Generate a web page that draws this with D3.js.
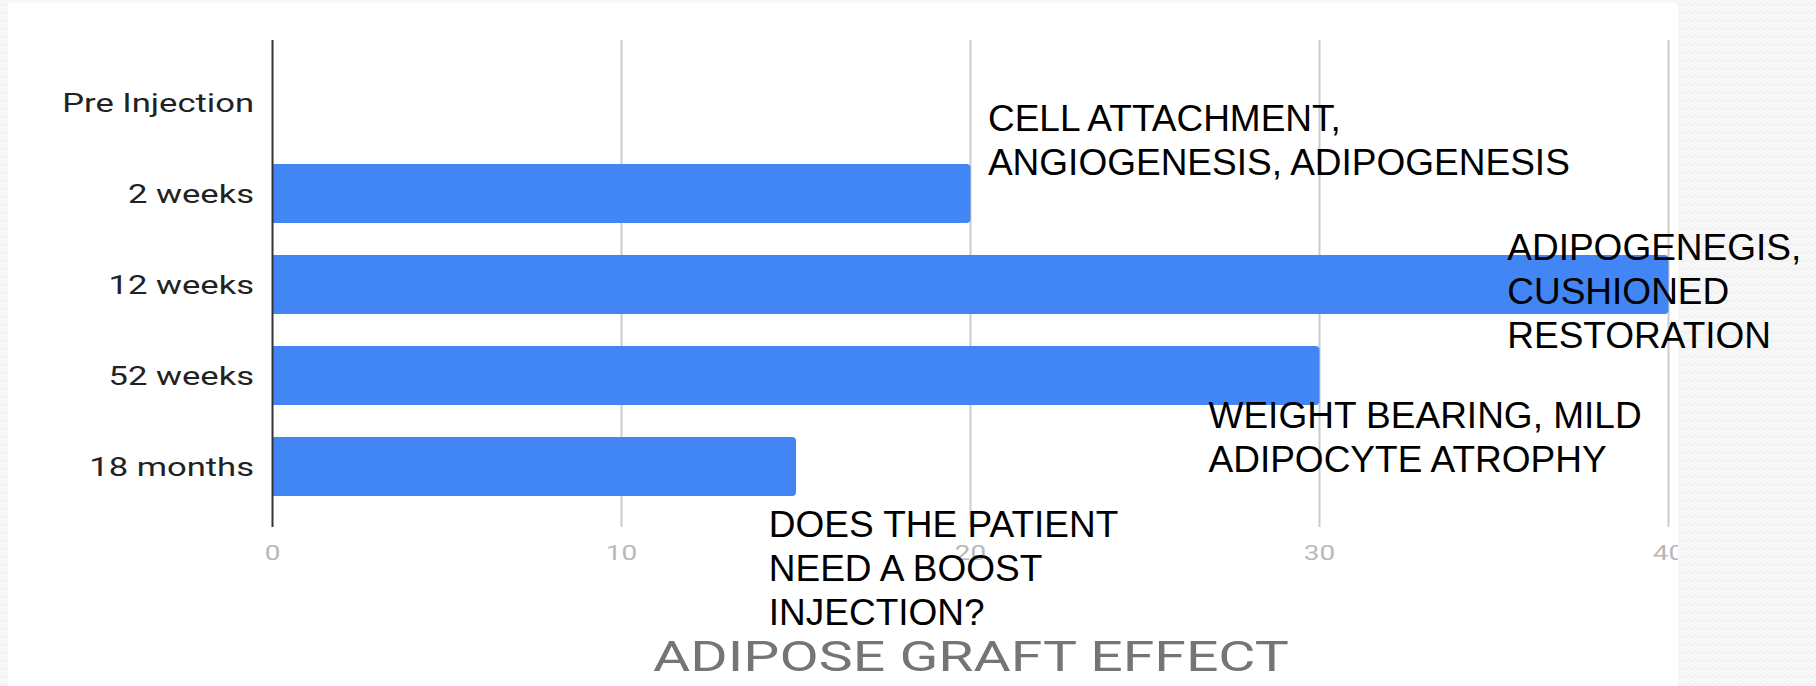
<!DOCTYPE html>
<html>
<head>
<meta charset="utf-8">
<script src="https://cdn.jsdelivr.net/npm/d3@7/dist/d3.min.js"></script>
<style>
  html, body { margin: 0; padding: 0; background: #f6f6f6; }
  svg { display: block; }
</style>
</head>
<body>
<svg id="chart" width="1816" height="686"></svg>
<script>
// ---- data ----
const categories = ["Pre Injection", "2 weeks", "12 weeks", "52 weeks", "18 months"];
const values = [0, 20, 40, 30, 15];
const tickValues = [0, 10, 20, 30, 40];
const tickLabels = ["0", "10", "20", "30", "40"];
const chartTitle = "ADIPOSE GRAFT EFFECT";
const annotationTexts = [
  ["CELL ATTACHMENT,", "ANGIOGENESIS, ADIPOGENESIS"],
  ["ADIPOGENEGIS,", "CUSHIONED", "RESTORATION"],
  ["WEIGHT BEARING, MILD", "ADIPOCYTE ATROPHY"],
  ["DOES THE PATIENT", "NEED A BOOST", "INJECTION?"]
];
// annotation anchor: value on x axis, and category row they sit near
const annotationAnchors = [
  { xv: 20.5, row: "Pre Injection" },
  { xv: 35.38, row: "12 weeks" },
  { xv: 26.82, row: "52 weeks" },
  { xv: 14.22, row: "18 months" }
];

// ---- layout ----
const svg = d3.select("#chart");
const W = 1816, H = 686;
const panel = { x: 8, y: 3, w: 1670, h: 683 };
const plotTop = 40, plotBottom = 527;
const stretch = 1.33; // chart text is horizontally stretched in the original

// textured background
const defs = svg.append("defs");
const pat = defs.append("pattern").attr("id", "zig").attr("patternUnits", "userSpaceOnUse")
  .attr("width", 12).attr("height", 8);
pat.append("rect").attr("width", 12).attr("height", 8).attr("fill", "#f7f7f7");
pat.append("polyline").attr("points", "0,6 3,3 6,6 9,3 12,6")
  .attr("fill", "none").attr("stroke", "#ebebeb").attr("stroke-width", 1);
svg.append("rect").attr("width", W).attr("height", H).attr("fill", "url(#zig)");
svg.append("rect").attr("x", panel.x).attr("y", panel.y).attr("width", panel.w).attr("height", panel.h).attr("fill", "#fff");

const clip = defs.append("clipPath").attr("id", "panelClip");
clip.append("rect").attr("x", panel.x).attr("y", panel.y).attr("width", panel.w).attr("height", panel.h);

const g = svg.append("g").attr("clip-path", "url(#panelClip)");

const x = d3.scaleLinear().domain([0, 40]).range([272.5, 1668.5]);
const y = d3.scaleBand().domain(categories).range([57, 512]).paddingInner(0.35).paddingOuter(0.175);

// gridlines
g.append("g").selectAll("line").data(tickValues.filter(d => d !== 0)).join("line")
  .attr("x1", d => x(d)).attr("x2", d => x(d))
  .attr("y1", plotTop).attr("y2", plotBottom)
  .attr("stroke", "#cccccc").attr("stroke-width", 2);

// bars (rounded right end)
const r = 4;
g.append("g").selectAll("path").data(categories.map((c, i) => ({ c, v: values[i] })).filter(d => d.v > 0)).join("path")
  .attr("fill", "#4285f4")
  .attr("d", d => {
    const x0 = x(0), x1 = x(d.v), y0 = y(d.c), h = y.bandwidth();
    return `M${x0},${y0} H${x1 - r} Q${x1},${y0} ${x1},${y0 + r} V${y0 + h - r} Q${x1},${y0 + h} ${x1 - r},${y0 + h} H${x0} Z`;
  });

// baseline axis line
g.append("line").attr("x1", x(0)).attr("x2", x(0)).attr("y1", plotTop).attr("y2", plotBottom)
  .attr("stroke", "#333").attr("stroke-width", 2);

// category labels
g.append("g").selectAll("text").data(categories).join("text")
  .attr("transform", d => `translate(254,${y(d) + y.bandwidth() / 2}) scale(${stretch},1)`)
  .attr("text-anchor", "end").attr("dy", "0.36em")
  .attr("font-family", "Roboto").attr("font-size", 26).attr("fill", "#222")
  .text(d => d);

// x tick labels
g.append("g").selectAll("text").data(tickValues).join("text")
  .attr("transform", d => `translate(${x(d)},552) scale(${stretch},1)`)
  .attr("text-anchor", "middle").attr("dy", "0.36em")
  .attr("font-family", "Roboto").attr("font-size", 21).attr("fill", "#b8b8b8")
  .text((d, i) => tickLabels[i]);

// annotations
const annLineH = 44;
const annOffsets = [28.5, -24.5, 52.5, 70.5]; // first-baseline offset from row center
annotationTexts.forEach((lines, k) => {
  const a = annotationAnchors[k];
  const cy = y(a.row) + y.bandwidth() / 2;
  const t = svg.append("text")
    .attr("font-family", "Liberation Sans, Arial, sans-serif").attr("font-size", 37).attr("fill", "#000");
  lines.forEach((ln, j) => {
    t.append("tspan").attr("x", x(a.xv)).attr("y", cy + annOffsets[k] + j * annLineH).text(ln);
  });
});

// chart title
svg.append("text")
  .attr("transform", `translate(653,671) scale(${stretch},1)`)
  .attr("font-family", "Roboto").attr("font-size", 43).attr("fill", "#757575")
  .text(chartTitle);
</script>
</body>
</html>
